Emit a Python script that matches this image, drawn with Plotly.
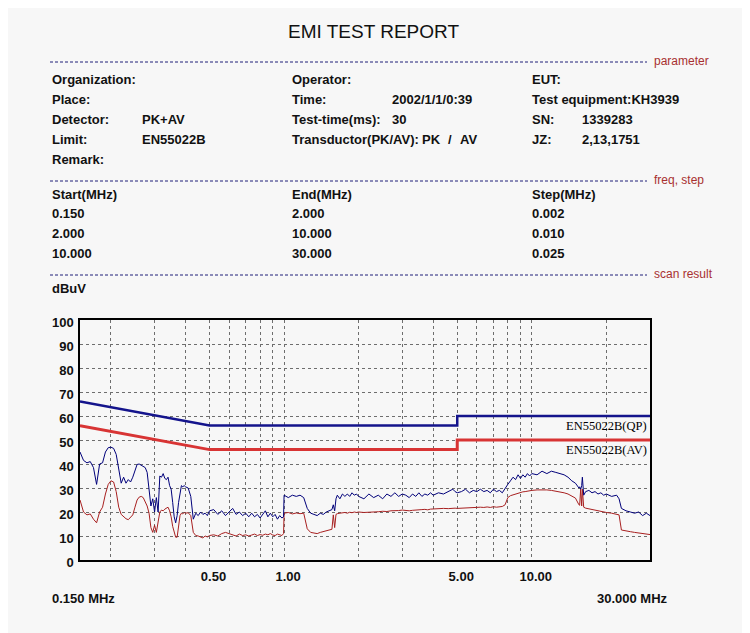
import math
import plotly.graph_objects as go

# ---------------- data ----------------
# scan band 1 : 0.150 - 2.000 MHz
band1_freq = [0.150,0.155,0.160,0.165,0.170,0.175,0.180,0.185,0.190,0.195,
              0.200,0.205,0.210,0.215,0.220,0.225,0.230,0.235,0.240,0.245,
              0.250,0.255,0.260,0.265,0.270,0.275,0.280,0.285,0.290,0.295,
              0.300,0.305,0.310,0.315,0.320,0.325,0.330,0.335,0.340,0.345,
              0.350,0.355,0.360,0.365,0.370,0.375,0.380,0.385,0.390,0.395,
              0.400,0.410,0.420,0.430,0.440,0.450,0.460,0.470,0.480,0.490,
              0.500,0.520,0.540,0.560,0.580,0.600,0.620,0.640,0.660,0.680,
              0.700,0.720,0.740,0.760,0.780,0.800,0.820,0.840,0.860,0.880,
              0.900,0.920,0.940,0.960,0.980,0.995,1.000,1.040,1.080,1.120,
              1.160,1.200,1.240,1.280,1.320,1.360,1.400,1.440,1.480,1.520,
              1.560,1.580,1.600,1.620,1.640,1.680,1.720,1.760,1.800,1.840,
              1.880,1.920,1.960,2.000]
band1_qp = [45,41.5,40.5,41,38.5,31.5,40,40.5,45,46.8,
            47,46.5,44,38,32,34.5,32,33.5,32.5,34.5,
            37.5,39.8,40,39.5,39,38.5,36.5,29,22.5,25.5,
            20,26,20,35,34.5,36,34,33.5,34.5,31,
            29.5,24,18,15.5,18.5,24,28.5,31,30.5,31,
            30.5,30,26.5,17,19.5,18.5,20,19,19.5,18.5,
            20.5,21,19,20.5,18.5,20,21.5,19,20,18.5,
            19.5,18,19.5,18,19,17.5,19,20.5,18,19.5,
            18,19,17,18.5,17.5,18,27,26,27,26.5,
            27,26,21.5,19.5,19,18.5,19.5,19,20,20.5,
            21,23,20.5,25.5,27,25.5,27.5,26.5,27.5,26.5,
            28,27,27.5,26.5]
band1_av = [25,20,18.8,19.2,17,15.5,20,22,27.5,31.5,
            33,32.5,28.5,22,19,18,17.2,16.8,17.8,18.8,
            22,25,26.2,26.5,26,24.5,22.5,19.5,13.5,11.5,
            14.5,11.5,16,20,20.8,20.5,21.2,21.5,22,20.5,
            18,14,11,9.5,9.5,14,18.5,19.5,19.2,19.8,
            19.5,19.7,18.5,11.5,10.2,10,9.5,9.2,10,9.6,
            10.2,10.5,10,11,11.5,11,10.5,10,10.8,10.2,
            10.5,10,10.4,10.8,10.2,10.6,10.3,10.8,10.5,11,
            10.4,10.2,10.8,10.5,10.2,11,19.5,19.8,19.2,19.6,
            19.3,19.5,13,11.5,11.2,11,11.5,11.8,12,12.3,
            12.8,18.8,13.5,19,19.3,19.5,19.6,19.8,19.5,19.9,
            19.7,20,19.8,20]

# scan band 2 : 2.000 - 10.000 MHz
band2_freq = [2.1,2.2,2.3,2.4,2.5,2.6,2.7,2.8,2.9,3.0,
              3.1,3.2,3.3,3.4,3.5,3.6,3.7,3.8,3.9,4.0,
              4.2,4.4,4.6,4.8,4.9,5.0,
              5.2,5.4,5.6,5.8,6.0,6.2,6.4,6.6,6.8,7.0,
              7.2,7.4,7.6,7.8,8.0,8.2,8.4,8.6,8.8,9.0,
              9.2,9.4,9.6,9.8,10.0]
band2_qp = [25.5,27.5,26,27,25.5,27.5,26.5,28,26.5,27.5,
            27,26,27.5,26.5,28,26.5,27.5,27,28,27,
            28,27.5,28.5,29.5,28.5,28,
            28.5,29.5,28,29,28.5,29.5,28.5,29,28,29.5,
            28.5,29,28,30,31.5,33,34.5,33.5,35.5,34,
            35.5,34.5,36,35,36]
band2_av = [19.8,19.9,19.7,20.1,20.3,20.2,20.5,20.4,20.6,20.8,
            20.6,20.5,20.7,20.9,20.8,21,21.1,20.9,21.2,21.3,
            21.2,21.5,21.4,21.7,21.6,21.5,
            21.6,21.8,21.7,21.9,21.8,22,21.9,22.1,21.9,22.2,
            22,22.1,22.3,23,26,26.8,27.2,27.6,27.9,28.2,
            28.4,28.5,28.7,28.8,29]

# scan band 3 : 10.000 - 30.000 MHz
band3_freq = [10.5,11,11.5,12,12.5,13,13.5,14,14.5,15,
              15.5,15.6,15.75,15.9,16.0,16.2,16.5,17,17.5,18,
              18.5,19,19.5,20,21,22,22.5,23,24,25,
              26,27,28,29,30]
band3_qp = [35.5,37,36,37,36.5,36,35.5,34.5,33,32,
            30,30.5,29.5,31,34.5,27,28.5,29,28,28.5,
            27.5,28,27,27.5,26.5,27,25.5,21.5,20.5,20,
            19.5,20,18.5,19.5,18.5]
band3_av = [29.2,29.3,29.2,29,28.7,28.4,28,27.5,26.8,25.8,
            23,22.8,29.5,22.5,29.5,22,21.6,21.3,21,20.8,
            20.5,20.3,20,19.8,19.5,19,18.8,12.5,12,11.8,
            11.5,11.3,11,10.8,10.6]

# EN55022 class B limits
limit_freq = [0.15, 0.5, 5.0, 5.0, 30.0]
limit_qp = [66, 56, 56, 60, 60]
limit_av = [56, 46, 46, 50, 50]

grid_x = [0.2,0.3,0.4,0.5,0.6,0.7,0.8,0.9,1,2,3,4,5,6,7,8,9,10,20]
grid_x_text = ["","","","0.50","","","","","1.00","","","","5.00","","","","","10.00",""]
y_ticks = [0,10,20,30,40,50,60,70,80,90,100]

header_rows = [
    [("Organization:", 50), ("Operator:", 290), ("EUT:", 530)],
    [("Place:", 50), ("Time:", 290), ("2002/1/1/0:39", 390), ("Test equipment:KH3939", 530)],
    [("Detector:", 50), ("PK+AV", 140), ("Test-time(ms):", 290), ("30", 390), ("SN:", 530), ("1339283", 580)],
    [("Limit:", 50), ("EN55022B", 140), ("Transductor(PK/AV):", 290), ("PK", 420), ("/", 446), ("AV", 458),
     ("JZ:", 530), ("2,13,1751", 580)],
    [("Remark:", 50)],
]
header_rows_y = [79.5, 99.5, 119.5, 139.5, 159.5]
freq_rows = [
    [("Start(MHz)", 50), ("End(MHz)", 290), ("Step(MHz)", 530)],
    [("0.150", 50), ("2.000", 290), ("0.002", 530)],
    [("2.000", 50), ("10.000", 290), ("0.010", 530)],
    [("10.000", 50), ("30.000", 290), ("0.025", 530)],
]
freq_rows_y = [194, 213.5, 233.5, 253.5]
sections = [("parameter", 62), ("freq, step", 181), ("scan result", 275)]

# ---------------- geometry helpers (page coordinates, page has 8px body margin) ----------------
OFF = 8
W, H = 750 - OFF, 633 - OFF
L, R, T, B = 80, 650, 320, 560   # plot box in page pixels


def px(x):
    return (x - L) / (R - L)


def py(y):
    return (B - y) / (B - T)


BG = "#F7F7F7"
TXT = "#111111"
HFONT = dict(family="Liberation Sans, Arial, sans-serif", size=13, color=TXT, weight="bold")

fig = go.Figure()

all_freq = band1_freq + band2_freq + band3_freq
qp_vals = band1_qp + band2_qp + band3_qp
av_vals = band1_av + band2_av + band3_av

fig.add_trace(go.Scatter(x=all_freq, y=av_vals, mode="lines",
                         line=dict(color="#A82020", width=1), name="AV"))
fig.add_trace(go.Scatter(x=all_freq, y=qp_vals, mode="lines",
                         line=dict(color="#00007A", width=1), name="QP"))
fig.add_trace(go.Scatter(x=limit_freq, y=limit_av, mode="lines",
                         line=dict(color="#D83434", width=3), name="EN55022B(AV)"))
fig.add_trace(go.Scatter(x=limit_freq, y=limit_qp, mode="lines",
                         line=dict(color="#14148C", width=2.5), name="EN55022B(QP)"))

ann = []
ann.append(dict(text="EMI TEST REPORT", x=px(373), y=py(32), xref="paper", yref="paper",
                xanchor="center", yanchor="middle", showarrow=False,
                font=dict(family="Liberation Sans, Arial, sans-serif", size=19, color=TXT)))
for row, yy in zip(header_rows, header_rows_y):
    for txt, xx in row:
        ann.append(dict(text=txt, x=px(xx), y=py(yy), xref="paper", yref="paper",
                        xanchor="left", yanchor="middle", showarrow=False, font=HFONT))
for row, yy in zip(freq_rows, freq_rows_y):
    for txt, xx in row:
        ann.append(dict(text=txt, x=px(xx), y=py(yy), xref="paper", yref="paper",
                        xanchor="left", yanchor="middle", showarrow=False, font=HFONT))
shapes = []
for label, yy in sections:
    shapes.append(dict(type="line", xref="paper", yref="paper", x0=px(50), x1=px(647),
                       y0=py(yy), y1=py(yy), line=dict(color="#1E1E78", width=1, dash="3px,2px")))
    ann.append(dict(text=label, x=px(652), y=py(yy - 1), xref="paper", yref="paper",
                    xanchor="left", yanchor="middle", showarrow=False,
                    font=dict(family="Liberation Sans, Arial, sans-serif", size=12, color="#A83030")))
ann.append(dict(text="dBuV", x=px(50), y=py(288.5), xref="paper", yref="paper",
                xanchor="left", yanchor="middle", showarrow=False, font=HFONT))
ann.append(dict(text="0.150 MHz", x=px(50), y=py(598.5), xref="paper", yref="paper",
                xanchor="left", yanchor="middle", showarrow=False, font=HFONT))
ann.append(dict(text="30.000 MHz", x=px(595), y=py(598.5), xref="paper", yref="paper",
                xanchor="left", yanchor="middle", showarrow=False, font=HFONT))
# limit labels (annotation x on a log axis is given in log10 units)
LBLFONT = dict(family="Liberation Serif, serif", size=12.5, color="#000000")
ann.append(dict(text="EN55022B(QP)", x=math.log10(limit_freq[-1]), y=limit_qp[-1], xref="x", yref="y",
                xanchor="right", yanchor="top", yshift=-1, xshift=-1, showarrow=False, font=LBLFONT))
ann.append(dict(text="EN55022B(AV)", x=math.log10(limit_freq[-1]), y=limit_av[-1], xref="x", yref="y",
                xanchor="right", yanchor="top", yshift=-1, xshift=-1, showarrow=False, font=LBLFONT))

fig.update_layout(
    width=W, height=H,
    margin=dict(l=L - OFF, r=W - (R - OFF), t=T - OFF, b=H - (B - OFF), pad=0),
    paper_bgcolor=BG, plot_bgcolor=BG,
    showlegend=False,
    annotations=ann, shapes=shapes,
    xaxis=dict(type="log", range=[math.log10(0.15), math.log10(30)], tickmode="array",
               tickvals=grid_x, ticktext=grid_x_text,
               showgrid=True, gridcolor="#6E6E6E", gridwidth=1, griddash="3px,3px",
               showline=True, linecolor="#000000", linewidth=1.5, mirror=True,
               ticks="", ticklabelstandoff=4, ticklabelshift=4,
               tickfont=dict(family="Liberation Sans, Arial, sans-serif", size=13, color=TXT, weight="bold"),
               zeroline=False),
    yaxis=dict(range=[0, 100], tickmode="array", tickvals=y_ticks,
               showgrid=True, gridcolor="#6E6E6E", gridwidth=1, griddash="3px,3px",
               showline=True, linecolor="#000000", linewidth=1.5, mirror=True,
               ticks="", ticklabelstandoff=2, ticklabelshift=2,
               tickfont=dict(family="Liberation Sans, Arial, sans-serif", size=13, color=TXT, weight="bold"),
               zeroline=False),
)

fig.write_html("out.html")
